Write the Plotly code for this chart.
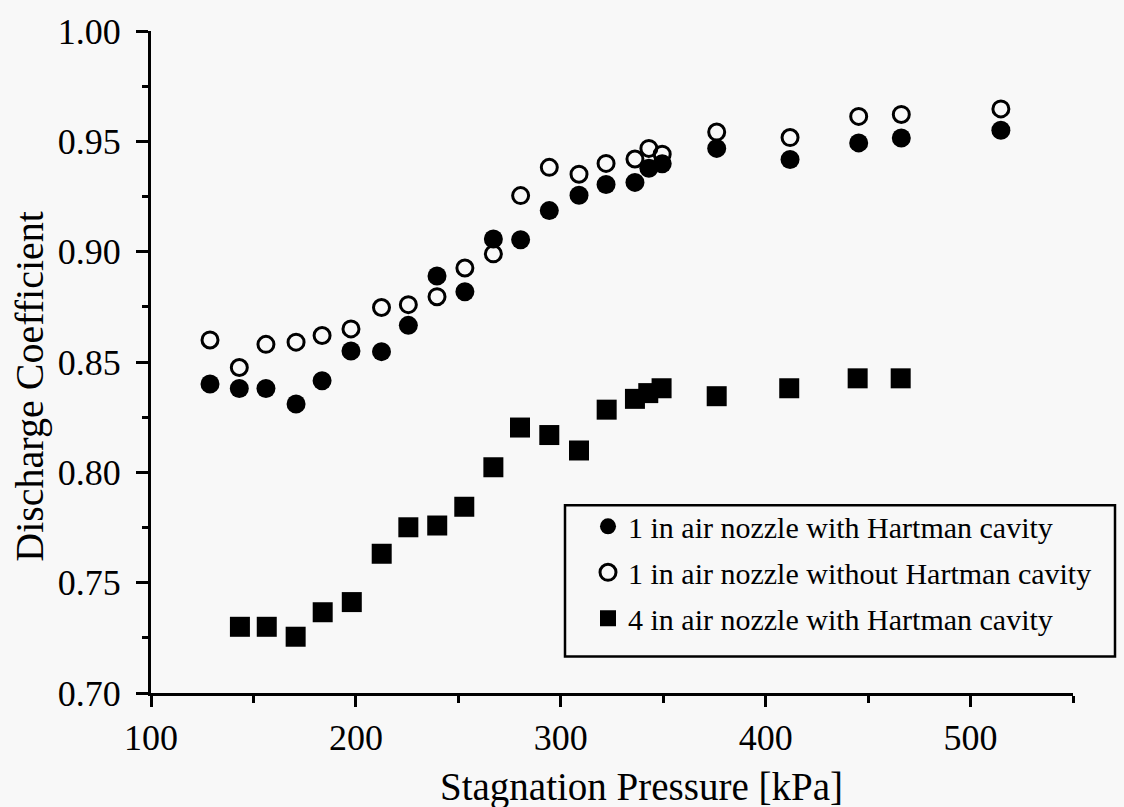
import plotly.graph_objects as go

# ---- data ----
p_1in = [128.8, 143.1, 156.1, 170.8, 183.5, 197.6, 212.5, 225.6, 239.6, 253.2, 267.1, 280.4,
         294.4, 308.9, 322.1, 336.2, 343.0, 349.5, 376.1, 411.9, 445.4, 466.2, 514.8]
cd_1in_with = [0.840, 0.838, 0.838, 0.831, 0.8415, 0.855, 0.8547, 0.8666, 0.889, 0.8818, 0.9057, 0.9054,
               0.9186, 0.9256, 0.9304, 0.9314, 0.9378, 0.9398, 0.9468, 0.9418, 0.9493, 0.9515, 0.955]
cd_1in_without = [0.860, 0.8475, 0.858, 0.859, 0.862, 0.865, 0.8747, 0.876, 0.8796, 0.8926, 0.899, 0.9254,
                  0.9382, 0.9351, 0.940, 0.942, 0.9468, 0.9442, 0.9542, 0.9517, 0.9613, 0.9622, 0.9647]
p_4in = [143.4, 156.5, 170.6, 183.8, 198.0, 212.6, 225.6, 239.7, 252.9, 267.1, 280.1, 294.4,
         308.9, 322.4, 336.2, 342.7, 349.2, 376.1, 411.5, 444.9, 465.9]
cd_4in_with = [0.730, 0.730, 0.7255, 0.7366, 0.7412, 0.7631, 0.7751, 0.7759, 0.7844, 0.8023, 0.8203, 0.8169,
               0.8099, 0.8284, 0.8333, 0.8359, 0.8381, 0.8345, 0.8381, 0.8426, 0.8426]

names = ["1 in air nozzle with Hartman cavity",
         "1 in air nozzle without Hartman cavity",
         "4 in air nozzle with Hartman cavity"]
x_title = "Stagnation Pressure [kPa]"
y_title = "Discharge Coefficient"

FONT = "Liberation Serif, Times New Roman, serif"
BG = "#f8f8f8"

fig = go.Figure()
fig.add_trace(go.Scatter(x=p_1in, y=cd_1in_with, mode="markers", name=names[0], legendgroup="a",
                         marker=dict(symbol="circle", size=19, color="black", line=dict(width=0))))
fig.add_trace(go.Scatter(x=p_1in, y=cd_1in_without, mode="markers", name=names[1], legendgroup="b",
                         marker=dict(symbol="circle-open", size=16, color="black", line=dict(width=3, color="black"))))
fig.add_trace(go.Scatter(x=p_4in, y=cd_4in_with, mode="markers", name=names[2], legendgroup="c",
                         marker=dict(symbol="square", size=20, color="black", line=dict(width=0))))

L, R, T, B = 151, 51, 23, 114
W, H = 1124, 807
pw, ph = W - L - R, H - T - B

def px_x(px):
    return (px - L) / pw

def px_y(py):
    return (H - B - py) / ph

fig.update_layout(
    width=W, height=H, autosize=False,
    margin=dict(l=L, r=R, t=T, b=B, pad=0),
    paper_bgcolor=BG, plot_bgcolor=BG,
    font=dict(family=FONT, color="black"),
    showlegend=True,
    legend=dict(x=px_x(588), y=px_y(498), xanchor="left", yanchor="top",
                bgcolor="rgba(0,0,0,0)", borderwidth=0,
                font=dict(family=FONT, size=30, color="black"),
                tracegroupgap=4),
    xaxis=dict(range=[100, 550], showgrid=False, zeroline=False, showline=True,
               linecolor="black", linewidth=3, ticks="outside", ticklen=11, tickwidth=2.5,
               tickcolor="black", dtick=100, tick0=100, ticklabelstandoff=0,
               tickfont=dict(family=FONT, size=36, color="black"),
               minor=dict(dtick=50, ticks="outside", ticklen=7, tickwidth=2.5, tickcolor="black")),
    yaxis=dict(range=[0.70, 1.00], showgrid=False, zeroline=False, showline=True,
               linecolor="black", linewidth=3, ticks="outside", ticklen=12, tickwidth=2.5,
               tickcolor="black", dtick=0.05, tick0=0.70, tickformat=".2f", ticklabelstandoff=8,
               tickfont=dict(family=FONT, size=36, color="black"),
               minor=dict(dtick=0.025, ticks="outside", ticklen=6, tickwidth=2.5, tickcolor="black")),
    annotations=[
        dict(text=x_title, xref="paper", yref="paper", x=px_x(641), y=px_y(788),
             xanchor="center", yanchor="middle", showarrow=False,
             font=dict(family=FONT, size=39, color="black")),
        dict(text=y_title, xref="paper", yref="paper", x=px_x(30), y=px_y(383),
             xanchor="center", yanchor="middle", showarrow=False, textangle=-90,
             font=dict(family=FONT, size=40, color="black")),
    ],
    shapes=[
        dict(type="rect", xref="paper", yref="paper",
             x0=px_x(565), x1=px_x(1115), y0=px_y(656), y1=px_y(503),
             line=dict(color="black", width=2.5), fillcolor="rgba(0,0,0,0)", layer="above"),
    ],
)

fig.write_html("out.html")
